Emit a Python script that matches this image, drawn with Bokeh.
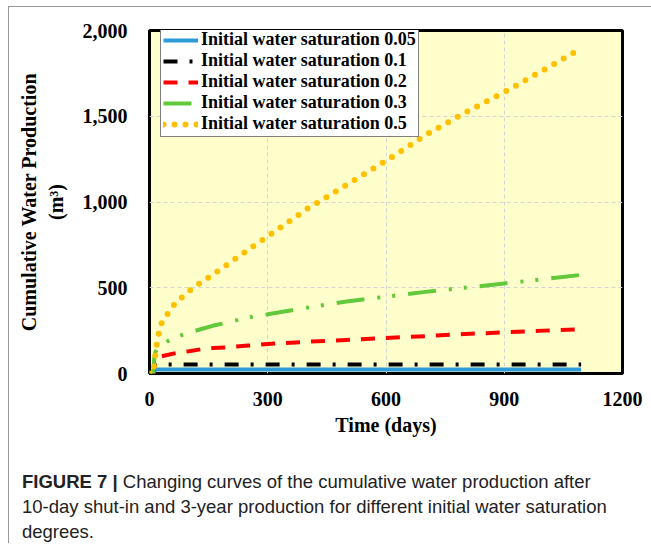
from bokeh.plotting import figure
from bokeh.models import Range1d, NumeralTickFormatter, FixedTicker, Legend, LegendItem, Div
from bokeh.layouts import column
from bokeh.embed import file_html
from bokeh.resources import INLINE

# ---- data ----
time_days = [0, 10, 12, 15, 20, 30, 45, 60, 80, 100, 130, 160, 200, 250, 300,
             400, 500, 600, 700, 800, 900, 1000, 1095]
sw_005 = [0, 0, 20, 22, 23, 23, 23, 23, 23, 23, 23, 23, 23, 23, 23,
          23, 23, 23, 23, 23, 23, 23, 23]
sw_01 = [0, 0, 42, 48, 50, 51, 52, 52, 52, 52, 52, 52, 52, 52, 52,
         52, 52, 52, 52, 52, 52, 52, 52]
sw_02 = [0, 0, 40, 70, 90, 100, 108, 116, 123, 130, 141, 148, 153, 163, 172,
         185, 196, 207, 218, 230, 240, 250, 258]
sw_03 = [0, 0, 90, 125, 145, 165, 187, 205, 222, 238, 258, 278, 298, 327, 345,
         384, 420, 448, 476, 500, 525, 550, 575]
sw_05 = [0, 0, 60, 110, 200, 290, 345, 395, 440, 480, 530, 575, 640, 720, 800,
         960, 1100, 1240, 1390, 1520, 1640, 1770, 1895]

series_labels = ["Initial water saturation 0.05", "Initial water saturation 0.1",
                 "Initial water saturation 0.2", "Initial water saturation 0.3",
                 "Initial water saturation 0.5"]
x_ticks = [0, 300, 600, 900, 1200]
y_ticks = [0, 500, 1000, 1500, 2000]

SERIF = "Liberation Serif"

p = figure(frame_width=473, frame_height=343, output_backend="svg", toolbar_location=None,
           x_range=Range1d(0, 1200), y_range=Range1d(0, 2000),
           min_border_left=140, min_border_right=29, min_border_top=23, min_border_bottom=66,
           margin=0)
p.background_fill_color = "#FFFFCC"
p.border_fill_color = "white"
p.outline_line_color = "black"
p.outline_line_width = 3

for ax in (p.xaxis[0], p.yaxis[0]):
    ax.axis_line_color = None
    ax.major_tick_line_color = None
    ax.minor_tick_line_color = None
    ax.major_tick_out = 0
    ax.major_tick_in = 0
    ax.major_label_text_font = SERIF
    ax.major_label_text_font_style = "bold"
    ax.major_label_text_font_size = "20px"
    ax.major_label_text_color = "black"
    ax.axis_label_text_font = SERIF
    ax.axis_label_text_font_style = "bold"
    ax.axis_label_text_font_size = "20px"
    ax.axis_label_text_color = "black"

p.xaxis.ticker = FixedTicker(ticks=x_ticks)
p.yaxis.ticker = FixedTicker(ticks=y_ticks)
p.yaxis.formatter = NumeralTickFormatter(format="0,0")
p.xaxis.major_label_standoff = 18
p.yaxis.major_label_standoff = 22
p.xaxis.axis_label = "Time (days)"
p.xaxis.axis_label_standoff = 5
p.yaxis.axis_label = "Cumulative Water Production\n(m³)"
p.yaxis.axis_label_standoff = 13

for g in (p.xgrid[0], p.ygrid[0]):
    g.grid_line_color = "#d4d4d4"
    g.grid_line_dash = "4 3"
    g.grid_line_width = 1

r1 = p.line(time_days, sw_005, line_color="#2E9AD8", line_width=4)
r2 = p.line(time_days, sw_01, line_color="black", line_width=4, line_dash="14 12 3 12")
r3 = p.line(time_days, sw_02, line_color="#FF0000", line_width=4, line_dash="14 11")
r4 = p.line(time_days, sw_03, line_color="#62C93A", line_width=4, line_dash="28 13 3 12 3 13")
r5 = p.line(time_days, sw_05, line_color="#FFC000", line_width=6, line_dash="0 11", line_cap="round")

legend = Legend(items=[LegendItem(label=l, renderers=[r]) for l, r in
                       zip(series_labels, [r1, r2, r3, r4, r5])],
                location=(11, 236))
legend.label_text_font = SERIF
legend.label_text_font_style = "bold"
legend.label_text_font_size = "18px"
legend.label_text_color = "black"
legend.glyph_width = 35
legend.glyph_height = 20
legend.label_height = 20
legend.label_standoff = 3
legend.spacing = 0
legend.padding = 2
legend.margin = 0
legend.border_line_color = "black"
legend.border_line_width = 1.5
legend.background_fill_color = "white"
legend.background_fill_alpha = 1
p.add_layout(legend, "center")

caption = Div(
    text=("<b>FIGURE 7 |</b> Changing curves of the cumulative water production after<br>"
          "10-day shut-in and 3-year production for different initial water saturation<br>"
          "degrees."),
    width=642, height=104, margin=0,
    styles={"font-family": "'Liberation Sans', Arial, sans-serif", "font-size": "18.5px",
            "line-height": "25px", "color": "#222", "padding-top": "30px",
            "padding-left": "13px", "white-space": "nowrap", "box-sizing": "border-box"})

layout = column(p, caption, spacing=0, margin=(6, 0, 0, 8),
                styles={"border-left": "1px solid #999", "border-top": "1px solid #999"})

open("out.html", "w").write(file_html(layout, INLINE))
